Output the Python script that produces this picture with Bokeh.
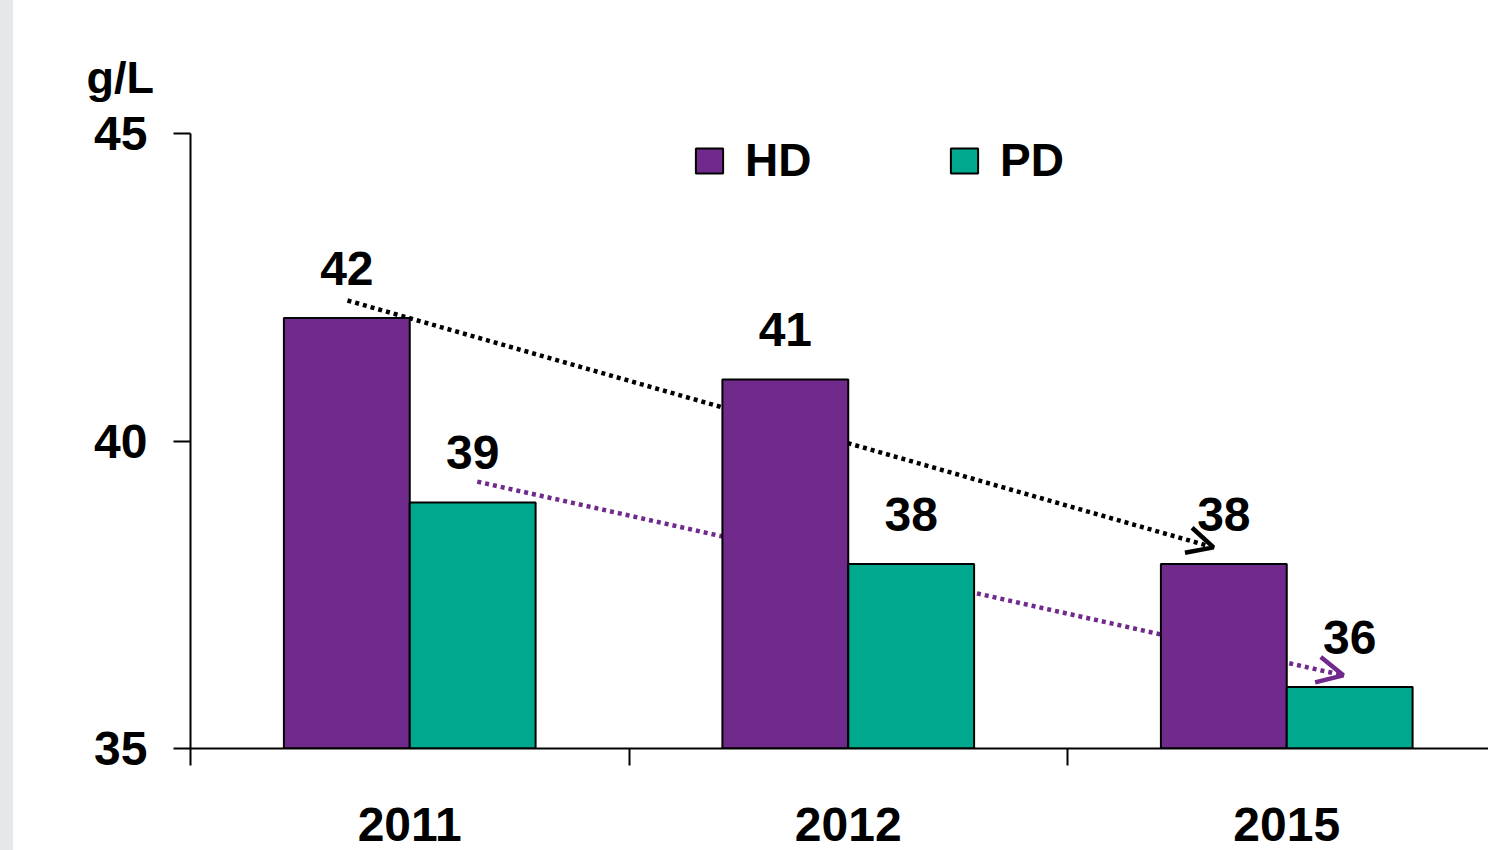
from bokeh.plotting import figure
from bokeh.models import (ColumnDataSource, Range1d, FixedTicker, Legend, LegendItem,
                          Arrow, OpenHead, Title, Div)
from bokeh.layouts import row
from bokeh.core.properties import value
from bokeh.embed import file_html
from bokeh.resources import INLINE

years = ["2011", "2012", "2015"]
hd = [42, 41, 38]
pd_vals = [39, 38, 36]
unit = "g/L"

HD_COLOR = "#702A8C"
PD_COLOR = "#00A98E"
FONT = "Liberation Sans"

bar_w = 0.287
idx = list(range(len(years)))
hd_x = [i + 0.5 - bar_w / 2 for i in idx]
pd_x = [i + 0.5 + bar_w / 2 for i in idx]

src_hd = ColumnDataSource(dict(x=hd_x, top=hd, label=[str(v) for v in hd]))
src_pd = ColumnDataSource(dict(x=pd_x, top=pd_vals, label=[str(v) for v in pd_vals]))

STRIP = 13
W, H = 1488 - STRIP, 850
FRAME_TOP = 110
LB, RB, TB, BB = 190 - STRIP, 0, FRAME_TOP, 102
px_per_cat = 438.5
px_per_unit = 61.5
x_end = (W - LB - RB) / px_per_cat
y_end = 35 + (H - TB - BB) / px_per_unit

p = figure(width=W, height=H, output_backend="svg", toolbar_location=None,
           x_range=Range1d(0, x_end), y_range=Range1d(35, y_end),
           min_border_left=LB, min_border_right=RB, min_border_top=TB, min_border_bottom=BB)
p.outline_line_color = None
p.xgrid.visible = False
p.ygrid.visible = False
p.background_fill_color = "white"
p.border_fill_color = "white"

# unit label as a left-aligned title shifted over the tick labels
p.title = Title(text=unit, align="left", offset=86 - 190, standoff=15,
                text_font=FONT, text_font_style="bold", text_font_size="45px",
                text_color="black")

# arrows (behind bars)
black_arrow = Arrow(x_start=0 + 0.358, y_start=hd[0] + 0.285, x_end=2 + 0.333, y_end=hd[2] + 0.27,
                    line_color="black", line_width=4.5, line_dash="4 4",
                    end=OpenHead(size=26, line_width=4.5, line_color="black"), level="underlay")
purple_arrow = Arrow(x_start=0 + 0.654, y_start=pd_vals[0] + 0.34, x_end=2 + 0.629, y_end=pd_vals[2] + 0.19,
                     line_color=HD_COLOR, line_width=4.5, line_dash="4 4",
                     end=OpenHead(size=26, line_width=4.5, line_color=HD_COLOR), level="underlay")
p.add_layout(black_arrow)
p.add_layout(purple_arrow)

r_hd = p.vbar(x="x", top="top", bottom=35, width=bar_w, source=src_hd,
              fill_color=HD_COLOR, line_color="black", line_width=2)
r_pd = p.vbar(x="x", top="top", bottom=35, width=bar_w, source=src_pd,
              fill_color=PD_COLOR, line_color="black", line_width=2)

for s in (src_hd, src_pd):
    p.text(x="x", y="top", text="label", source=s, text_align="center",
           text_baseline="alphabetic", y_offset=-50,
           text_font=value(FONT), text_font_style="bold", text_font_size="48px",
           text_color="black")

# axes
xa = p.xaxis[0]
xa.ticker = FixedTicker(ticks=[i + 0.5 for i in idx], minor_ticks=[float(i) for i in idx])
xa.major_label_overrides = {i + 0.5: y for i, y in zip(idx, years)}
xa.major_tick_out = 0
xa.major_tick_in = 0
xa.minor_tick_out = 17
xa.minor_tick_in = 0
xa.minor_tick_line_color = "black"
xa.minor_tick_line_width = 2
xa.axis_line_width = 2
xa.axis_line_color = "black"
xa.major_label_text_font = FONT
xa.major_label_text_font_style = "bold"
xa.major_label_text_font_size = "48px"
xa.major_label_text_color = "black"
xa.major_label_standoff = 42

ya = p.yaxis[0]
ya.ticker = FixedTicker(ticks=[35, 40, 45])
ya.bounds = (35, 45)
ya.major_tick_out = 17
ya.major_tick_in = 0
ya.minor_tick_out = 0
ya.minor_tick_in = 0
ya.major_tick_line_width = 2
ya.axis_line_width = 2
ya.axis_line_color = "black"
ya.major_label_text_font = FONT
ya.major_label_text_font_style = "bold"
ya.major_label_text_font_size = "48px"
ya.major_label_text_color = "black"
ya.major_label_standoff = 26

def make_legend(renderer, label, left):
    lg = Legend(items=[LegendItem(label=label, renderers=[renderer])],
                location=(left, 748 - 176 - 11), orientation="horizontal",
                glyph_width=34, glyph_height=31, label_height=31, label_standoff=19,
                label_text_font=FONT, label_text_font_style="bold", label_text_font_size="46px",
                label_text_color="black",
                padding=0, margin=0, spacing=0,
                border_line_alpha=0, background_fill_alpha=0)
    p.add_layout(lg)

make_legend(r_hd, "HD", 692 - 190)
make_legend(r_pd, "PD", 947 - 190)

strip = Div(text="", width=STRIP, height=H, margin=0,
            styles={"background-color": "#e6e7e9", "width": f"{STRIP}px", "height": f"{H}px"})
layout = row(strip, p, spacing=0, margin=0)

open("out.html", "w").write(file_html(layout, INLINE))
